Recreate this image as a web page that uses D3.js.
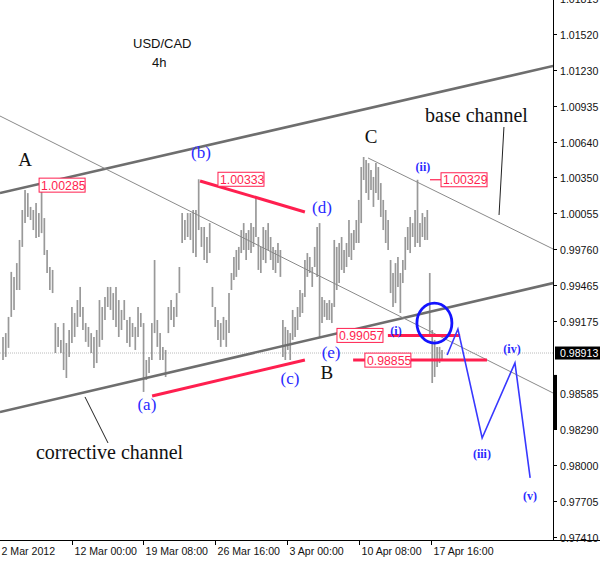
<!DOCTYPE html>
<html><head><meta charset="utf-8">
<script src="https://cdn.jsdelivr.net/npm/d3@7"></script>
<style>body{margin:0;background:#fff} svg{display:block}</style>
</head><body><svg id="c" width="600" height="561"></svg>
<script>
// ---- data: 4h bars (high / low) ----
const highs = [0.99044,0.99076,0.99208,0.99576,0.99535,0.99648,0.99837,1.00082,1.00245,1.00220,
1.00107,1.00082,1.00139,1.00057,1.00285,1.00016,0.99755,0.99616,0.99592,0.99158,
0.99126,0.99020,0.99158,0.98995,0.99101,0.99289,0.99240,0.99346,0.99453,0.99289,
0.99158,0.99126,0.99076,0.99044,0.99101,0.99346,0.99289,0.99371,0.99453,0.99453,
0.99403,0.99453,0.99346,0.99265,0.99346,0.99183,0.99208,0.99158,0.99126,0.99289,
0.99240,0.99158,0.98856,0.98881,0.99158,0.99673,0.99183,0.99076,0.98963,0.98938,
0.99289,0.99346,0.99289,0.99403,0.99616,1.00057,1.00000,1.00057,1.00057,1.00082,
1.00082,1.00333,0.99943,0.99943,0.99861,0.99975,0.99453,0.99289,0.99183,0.99158,
0.99208,0.99183,0.99403,0.99567,0.99698,0.99755,0.99780,0.99918,0.99975,0.99893,
0.99918,0.99975,0.99943,1.00188,0.99861,0.99780,0.99943,0.99918,0.99975,0.99861,
0.99780,0.99755,0.99812,0.99755,0.99183,0.99126,0.99101,0.99076,0.99265,0.99208,
0.99289,0.99428,0.99403,0.99673,0.99730,0.99698,0.99616,0.99780,0.99943,0.99975,
0.99371,0.99346,0.99321,0.99346,0.99321,0.99837,0.99780,0.99812,0.99861,0.99755,
0.99812,1.00000,0.99893,0.99918,1.00000,1.00164,1.00433,1.00515,1.00490,1.00465,
1.00409,1.00352,1.00465,1.00433,1.00302,1.00164,1.00082,1.00000,0.99673,0.99567,
0.99648,0.99698,0.99567,0.99673,0.99861,0.99943,1.00025,0.99975,1.00082,1.00329,
0.99975,1.00057,1.00025,1.00082,0.99567,0.99101,0.99020,0.98963,0.98963,0.98938];
const lows = [0.98856,0.98881,0.98955,0.99208,0.99265,0.99428,0.99428,0.99780,0.99975,1.00025,
1.00000,0.99918,0.99853,0.99861,0.99893,0.99714,0.99567,0.99428,0.99403,0.98913,
0.98963,0.98913,0.98774,0.98709,0.98881,0.98995,0.99044,0.99126,0.99208,0.99101,
0.99004,0.98963,0.98913,0.98791,0.98831,0.98963,0.99020,0.99183,0.99289,0.99265,
0.99183,0.99126,0.99044,0.99101,0.99183,0.98995,0.98963,0.99044,0.98938,0.99044,
0.99126,0.98595,0.98693,0.98749,0.98856,0.99076,0.98963,0.98856,0.98856,0.98717,
0.99076,0.99183,0.99126,0.99208,0.99403,0.99812,0.99837,0.99861,0.99837,0.99730,
0.99698,0.99918,0.99780,0.99673,0.99648,0.99730,0.99289,0.99126,0.99020,0.98963,
0.99020,0.98963,0.99076,0.99428,0.99510,0.99535,0.99592,0.99730,0.99755,0.99673,
0.99755,0.99730,0.99780,0.99861,0.99592,0.99567,0.99673,0.99648,0.99755,0.99673,
0.99592,0.99567,0.99648,0.99535,0.98881,0.98856,0.98938,0.98856,0.99020,0.99044,
0.99101,0.99208,0.99240,0.99371,0.99535,0.99567,0.99453,0.99616,0.99535,0.99044,
0.99158,0.99208,0.99183,0.99183,0.99158,0.99289,0.99428,0.99485,0.99592,0.99567,
0.99616,0.99698,0.99673,0.99755,0.99812,0.99812,0.99975,1.00327,1.00220,1.00164,
1.00245,1.00107,1.00220,1.00164,1.00025,0.99918,0.99812,0.99755,0.99403,0.99289,
0.99321,0.99453,0.99240,0.99485,0.99592,0.99755,0.99730,0.99861,0.99780,0.99812,
0.99780,0.99861,0.99837,0.99837,0.99044,0.98668,0.98717,0.98799,0.98831,0.98856];

const priceTicks = [1.01815,1.01520,1.01230,1.00935,1.00640,1.00350,1.00055,0.99760,0.99465,0.99175,0.98585,0.98290,0.98000,0.97705,0.97410];
const timeTickIdx = [-1.5,25,50.8,76.9,105.7,135.1,164.5];
const timeTickLabels = ["2 Mar 2012","12 Mar 00:00","19 Mar 08:00","26 Mar 16:00","3 Apr 00:00","10 Apr 08:00","17 Apr 16:00"];
const currentPrice = 0.98913;
const sideBar = [0.98734, 0.98284];

// trend lines (bar index, price)
const channelLines = [
  {kind:"heavy", i0:-1.1, p0:1.00221, i1:214.4, p1:1.01259},
  {kind:"heavy", i0:-1.1, p0:0.98431, i1:214.4, p1:0.99485},
  {kind:"thin",  i0:-1.1, p0:1.00850, i1:214.4, p1:0.98586},
  {kind:"thin",  i0:138.8, p0:1.00507, i1:214.4, p1:0.99763}
];
const redLines = [
  {kind:"thick", i0:71.5, p0:1.00319, i1:113.0, p1:1.00066},
  {kind:"thick", i0:54.1, p0:0.98562, i1:113.0, p1:0.98856},
  {kind:"thick", i0:146.9, p0:0.99057, i1:176.4, p1:0.99057},
  {kind:"thick", i0:132.7, p0:0.98855, i1:187.4, p1:0.98855},
  {kind:"thin",  i0:164.1, p0:1.00329, i1:168.6, p1:1.00329}
];
const priceLabels = [
  {i:13.1, p:1.00285}, {i:78.0, p:1.00333}, {i:168.6, p:1.00329},
  {i:126.1, p:0.99057}, {i:137.5, p:0.98855}
];
const waveIdx = [171.1,175.5,185.4,198.8,205.0];
const wavePrice = [0.98897,0.99109,0.98219,0.98832,0.97892];
const circleAt = {i:165.9, p:0.99158};
const pointerLines = [
  {i0:194.3, p0:1.00760, i1:192.3, p1:1.00041},
  {i0:29.75, p0:0.98554, i1:38.1, p1:0.98178}
];
const waveLabels = [
  {t:"A", i:8.0, p:1.00441, kind:"major"},
  {t:"B", i:122.0, p:0.98701, kind:"major"},
  {t:"C", i:140.0, p:1.00629, kind:"major"},
  {t:"(a)", i:52.2, p:0.98447, kind:"minor"},
  {t:"(b)", i:71.8, p:1.00507, kind:"minor"},
  {t:"(c)", i:106.9, p:0.98660, kind:"minor"},
  {t:"(d)", i:120.0, p:1.00057, kind:"minor"},
  {t:"(e)", i:123.7, p:0.98872, kind:"minor"},
  {t:"(i)", i:150.2, p:0.99060, kind:"small"},
  {t:"(ii)", i:161.2, p:1.00401, kind:"small"},
  {t:"(iii)", i:185.3, p:0.98055, kind:"small"},
  {t:"(iv)", i:197.6, p:0.98913, kind:"small"},
  {t:"(v)", i:204.9, p:0.97712, kind:"small"}
];
const noteLabels = [
  {t:"base channel", i:162.1, p:1.00801},
  {t:"corrective channel", i:11.97, p:0.98047}
];

// ---- layout ----
const W = 600, H = 561, plotR = 553, plotB = 540;
const svg = d3.select("#c");
svg.append("rect").attr("width",W).attr("height",H).attr("fill","#fff");

const x = d3.scaleLinear().domain([0,82,169]).range([3,229,442]);
const y = d3.scaleLinear().domain([0.97385,1.01798]).range([plotB,0]);

svg.append("clipPath").attr("id","plot").append("rect")
  .attr("x",0).attr("y",0).attr("width",plotR).attr("height",plotB);
const g = svg.append("g").attr("clip-path","url(#plot)");

// current price dotted line
g.append("line").attr("x1",0).attr("x2",plotR)
  .attr("y1",y(currentPrice)).attr("y2",y(currentPrice))
  .attr("stroke","#bbb").attr("stroke-width",1).attr("stroke-dasharray","1,1");

// bars
g.selectAll("line.bar").data(highs).join("line").attr("class","bar")
  .attr("x1",(d,i)=>x(i)).attr("x2",(d,i)=>x(i))
  .attr("y1",d=>y(d)).attr("y2",(d,i)=>y(lows[i]))
  .attr("stroke","#999").attr("stroke-width",1.7);

// channel lines
g.selectAll("line.ch").data(channelLines).join("line").attr("class","ch")
  .attr("x1",d=>x(d.i0)).attr("y1",d=>y(d.p0)).attr("x2",d=>x(d.i1)).attr("y2",d=>y(d.p1))
  .attr("stroke",d=>d.kind==="heavy"?"#6e6e6e":"#8a8a8a")
  .attr("stroke-width",d=>d.kind==="heavy"?2.6:1);

// red lines
g.selectAll("line.red").data(redLines).join("line").attr("class","red")
  .attr("x1",d=>x(d.i0)).attr("y1",d=>y(d.p0)).attr("x2",d=>x(d.i1)).attr("y2",d=>y(d.p1))
  .attr("stroke","#ff1f4f").attr("stroke-width",d=>d.kind==="thick"?3:1.2);

// price labels
const pl = g.selectAll("g.pl").data(priceLabels).join("g").attr("class","pl")
  .attr("transform",d=>`translate(${x(d.i)},${y(d.p)})`);
pl.append("rect").attr("x",0).attr("y",-7).attr("width",46).attr("height",14)
  .attr("fill","#fff").attr("stroke","#ff1f4f").attr("stroke-width",1);
pl.append("text").attr("x",2).attr("y",4.5).text(d=>d.p.toFixed(5))
  .attr("font-family","Liberation Sans, Arial, sans-serif").attr("font-size",12.3).attr("fill","#ff1f4f");

// blue circle
g.append("ellipse").attr("cx",x(circleAt.i)).attr("cy",y(circleAt.p)).attr("rx",17.5).attr("ry",20)
  .attr("fill","none").attr("stroke","#1414ff").attr("stroke-width",2.8);

// projected wave
const wave = d3.line().x(d=>x(d[0])).y(d=>y(d[1]));
g.append("path").attr("d",wave(waveIdx.map((v,i)=>[v,wavePrice[i]])))
  .attr("fill","none").attr("stroke","#3838ff").attr("stroke-width",1.6);

// pointer lines
g.selectAll("line.ptr").data(pointerLines).join("line").attr("class","ptr")
  .attr("x1",d=>x(d.i0)).attr("y1",d=>y(d.p0)).attr("x2",d=>x(d.i1)).attr("y2",d=>y(d.p1))
  .attr("stroke","#222").attr("stroke-width",1);

// wave labels
g.selectAll("text.wl").data(waveLabels).join("text").attr("class","wl")
  .attr("x",d=>x(d.i)).attr("y",d=>y(d.p)).attr("text-anchor","middle")
  .attr("font-family","Liberation Serif, Times New Roman, serif")
  .attr("font-size",d=>d.kind==="major"?19:d.kind==="minor"?17:12)
  .attr("font-weight",d=>d.kind==="small"?"bold":"normal")
  .attr("fill",d=>d.kind==="major"?"#111":"#2a2aff")
  .text(d=>d.t);

g.selectAll("text.nl").data(noteLabels).join("text").attr("class","nl")
  .attr("x",d=>x(d.i)).attr("y",d=>y(d.p))
  .attr("font-family","Liberation Serif, Times New Roman, serif").attr("font-size",20)
  .attr("fill","#111").text(d=>d.t);

// title
svg.append("text").attr("x",133).attr("y",48).text("USD/CAD")
  .attr("font-family","Liberation Sans, Arial, sans-serif").attr("font-size",13).attr("fill","#111");
svg.append("text").attr("x",152).attr("y",67).text("4h")
  .attr("font-family","Liberation Sans, Arial, sans-serif").attr("font-size",13).attr("fill","#111");

// axes frame
svg.append("line").attr("x1",plotR+0.5).attr("x2",plotR+0.5).attr("y1",0).attr("y2",plotB)
  .attr("stroke","#000").attr("stroke-width",1);
svg.append("line").attr("x1",0).attr("x2",W).attr("y1",plotB+0.5).attr("y2",plotB+0.5)
  .attr("stroke","#000").attr("stroke-width",1);

const axisFont = "Liberation Sans, Arial, sans-serif";
// y axis
const yt = svg.append("g").selectAll("g").data(priceTicks).join("g")
  .attr("transform",d=>`translate(${plotR},${Math.round(y(d))+0.5})`);
yt.append("line").attr("x1",0).attr("x2",4).attr("stroke","#000");
yt.append("text").attr("x",7).attr("y",4).text(d=>d.toFixed(5))
  .attr("font-family",axisFont).attr("font-size",10.6).attr("fill","#111");

// current price box
const cp = svg.append("g").attr("transform",`translate(${plotR+2},${y(currentPrice)})`);
cp.append("rect").attr("x",0).attr("y",-6.5).attr("width",45).attr("height",13).attr("fill","#000");
cp.append("text").attr("x",5).attr("y",4).text(currentPrice.toFixed(5))
  .attr("font-family",axisFont).attr("font-size",10.6).attr("fill","#fff");

// side bar on axis
svg.append("line").attr("x1",plotR+2).attr("x2",plotR+2)
  .attr("y1",y(sideBar[0])).attr("y2",y(sideBar[1])).attr("stroke","#000").attr("stroke-width",4);

// x axis
const xt = svg.append("g").selectAll("g").data(timeTickIdx).join("g")
  .attr("transform",d=>`translate(${Math.round(x(d))+0.5},${plotB})`);
xt.append("line").attr("y1",0).attr("y2",5).attr("stroke",(d,i)=>i===0?"none":"#000");
xt.append("text").attr("x",2).attr("y",15).text((d,i)=>timeTickLabels[i])
  .attr("font-family",axisFont).attr("font-size",10.6).attr("fill","#111");
</script></body></html>
